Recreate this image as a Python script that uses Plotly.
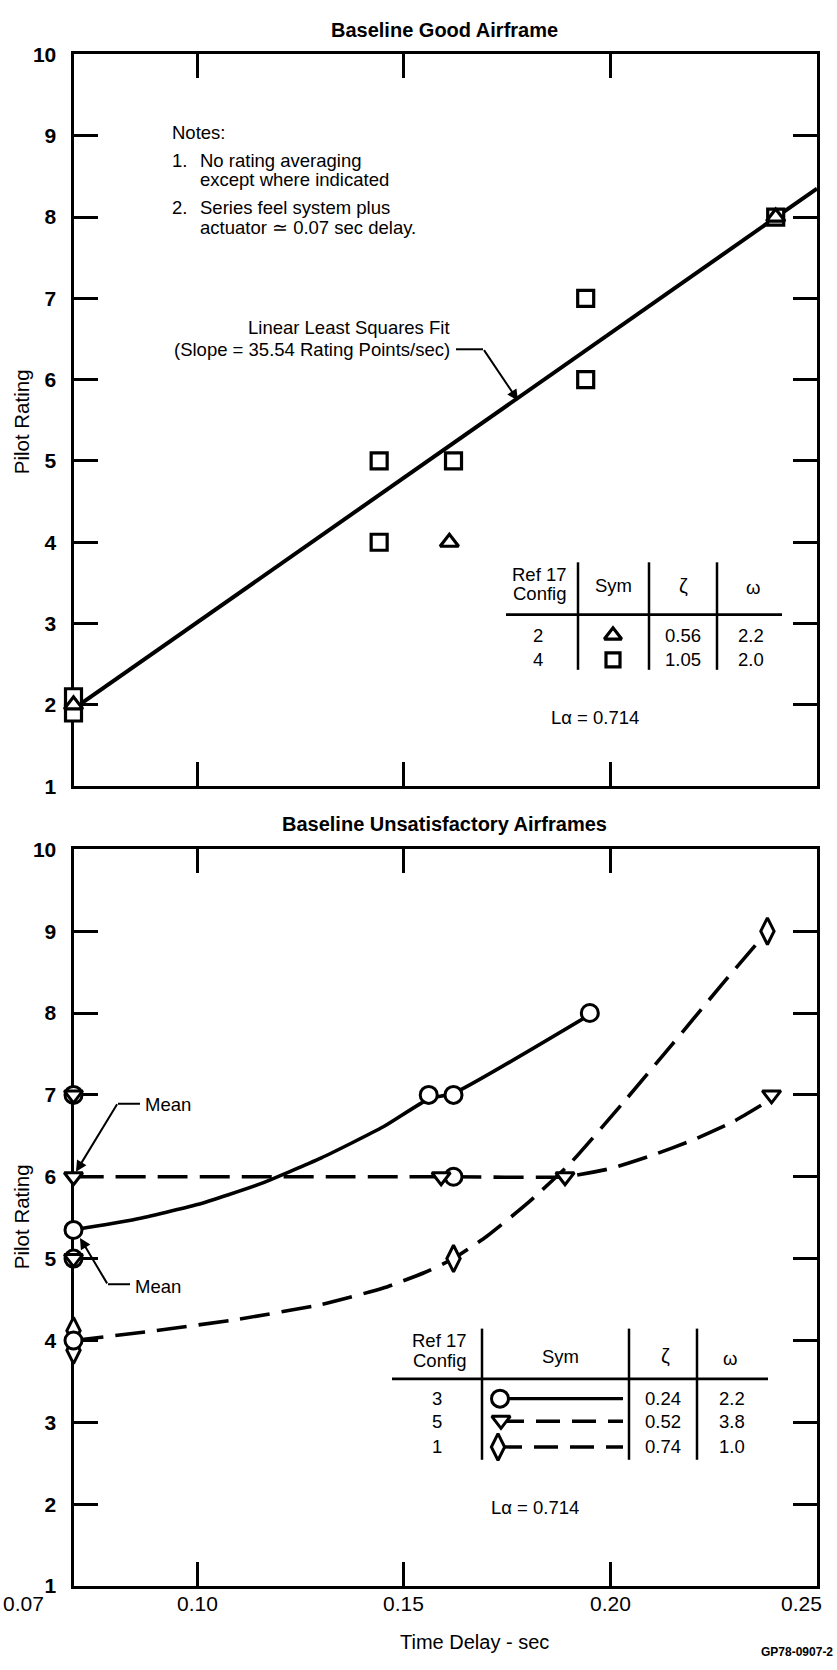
import plotly.graph_objects as go

W, H = 837, 1670

# ---------------- data ----------------
# Top panel : Baseline Good Airframe
cfg4_sq_x = [0.07, 0.07, 0.144, 0.144, 0.162, 0.194, 0.194, 0.240]
cfg4_sq_y = [2.1, 1.9, 4.0, 5.0, 5.0, 7.0, 6.0, 8.0]
cfg2_tri_x = [0.07, 0.161, 0.240]
cfg2_tri_y = [2.0, 4.0, 8.0]
fit_x = [0.07, 0.25]
fit_y = [1.95, 8.35]

# Bottom panel : Baseline Unsatisfactory Airframes
cfg3_circ_x = [0.07, 0.07, 0.07, 0.07, 0.156, 0.162, 0.162, 0.195]
cfg3_circ_y = [7.0, 5.0, 4.0, 5.35, 7.0, 7.0, 6.0, 8.0]
cfg5_tri_x = [0.07, 0.07, 0.07, 0.159, 0.189, 0.239]
cfg5_tri_y = [7.0, 5.0, 6.0, 6.0, 6.0, 7.0]
cfg1_dia_x = [0.07, 0.07, 0.162, 0.238]
cfg1_dia_y = [4.12, 3.88, 5.0, 9.0]

# faired curves
cfg3_curve_x = [0.07, 0.085, 0.10, 0.115, 0.13, 0.145, 0.156, 0.162, 0.195]
cfg3_curve_y = [5.35, 5.48, 5.66, 5.91, 6.23, 6.61, 6.95, 7.02, 7.98]
cfg5_curve_x = [0.07, 0.161, 0.189, 0.200, 0.210, 0.220, 0.230, 0.239]
cfg5_curve_y = [6.0, 6.0, 6.0, 6.10, 6.26, 6.45, 6.68, 6.95]
cfg1_curve_x = [0.07, 0.09, 0.11, 0.13, 0.145, 0.155, 0.162, 0.170, 0.180,
                0.190, 0.203, 0.215, 0.227, 0.238]
cfg1_curve_y = [4.0, 4.12, 4.26, 4.44, 4.64, 4.83, 5.0, 5.27, 5.68,
                6.15, 6.90, 7.62, 8.35, 9.0]

# axes / ticks
x_tick_vals = [0.07, 0.10, 0.15, 0.20, 0.25]
x_tick_text = ["0.07", "0.10", "0.15", "0.20", "0.25"]
x_tick_shift = [-50, 0, 0, 0, -16]
y_tick_vals = [1, 2, 3, 4, 5, 6, 7, 8, 9, 10]

# tables
top_cfg = ["2", "4"]
top_zeta = ["0.56", "1.05"]
top_omega = ["2.2", "2.0"]
bot_cfg = ["3", "5", "1"]
bot_zeta = ["0.24", "0.52", "0.74"]
bot_omega = ["2.2", "3.8", "1.0"]

FONT = "Liberation Sans, Arial, Helvetica, sans-serif"


def px(x):
    return x / W


def py(y):
    return 1 - y / H


fig = go.Figure()

SQ = dict(symbol="square", size=16, color="white", line=dict(color="black", width=3.2))
TU = dict(symbol="triangle-up", size=16, color="white", line=dict(color="black", width=3.2))
CI = dict(symbol="circle", size=17, color="white", line=dict(color="black", width=3))
TD = dict(symbol="triangle-down", size=16, color="white", line=dict(color="black", width=3))
DI = dict(symbol="diamond-tall", size=19, color="white", line=dict(color="black", width=3))

# ---------- top panel ----------
fig.add_trace(go.Scatter(x=fit_x, y=fit_y, mode="lines",
                         line=dict(color="black", width=4),
                         xaxis="x", yaxis="y", cliponaxis=False))
fig.add_trace(go.Scatter(x=cfg4_sq_x, y=cfg4_sq_y, mode="markers", marker=SQ,
                         xaxis="x", yaxis="y", cliponaxis=False))
fig.add_trace(go.Scatter(x=cfg2_tri_x, y=cfg2_tri_y, mode="markers", marker=TU,
                         xaxis="x", yaxis="y", cliponaxis=False))

# ---------- bottom panel ----------
DASH = "30px,12px"
fig.add_trace(go.Scatter(x=cfg1_curve_x, y=cfg1_curve_y, mode="lines",
                         line=dict(color="black", width=3.6, dash=DASH,
                                   shape="spline", smoothing=0.5),
                         xaxis="x2", yaxis="y2", cliponaxis=False))
fig.add_trace(go.Scatter(x=cfg5_curve_x, y=cfg5_curve_y, mode="lines",
                         line=dict(color="black", width=3.6, dash=DASH,
                                   shape="spline", smoothing=0.5),
                         xaxis="x2", yaxis="y2", cliponaxis=False))
fig.add_trace(go.Scatter(x=cfg3_curve_x, y=cfg3_curve_y, mode="lines",
                         line=dict(color="black", width=3.6,
                                   shape="spline", smoothing=0.5),
                         xaxis="x2", yaxis="y2", cliponaxis=False))
fig.add_trace(go.Scatter(x=cfg1_dia_x, y=cfg1_dia_y, mode="markers", marker=DI,
                         xaxis="x2", yaxis="y2", cliponaxis=False))
fig.add_trace(go.Scatter(x=cfg3_circ_x, y=cfg3_circ_y, mode="markers", marker=CI,
                         xaxis="x2", yaxis="y2", cliponaxis=False))
fig.add_trace(go.Scatter(x=cfg5_tri_x, y=cfg5_tri_y, mode="markers", marker=TD,
                         xaxis="x2", yaxis="y2", cliponaxis=False))

# ---------- table symbols (overlay in page pixels) ----------
def ov(x, y, **kw):
    fig.add_trace(go.Scatter(x=x, y=y, xaxis="x3", yaxis="y3",
                             cliponaxis=False, **kw))


ov([613], [632], mode="markers", marker=dict(TU, size=15))
ov([613], [657], mode="markers", marker=dict(SQ, size=14))
ov([492, 623], [1406, 1406], mode="lines", line=dict(color="black", width=3.4))
ov([500, 623], [1429, 1429], mode="lines",
   line=dict(color="black", width=3.4, dash="24px,12px"))
ov([498, 623], [1455, 1455], mode="lines",
   line=dict(color="black", width=3.4, dash="24px,12px"))
ov([500], [1406], mode="markers", marker=CI)
ov([501], [1428], mode="markers", marker=TD)
ov([498], [1455], mode="markers", marker=DI)

# ---------- axes ----------
XD = [px(73.5), px(817)]
TOPD = [py(785), py(43)]
BOTD = [py(1596), py(849)]

ax_common = dict(showline=True, linecolor="black", linewidth=3, mirror="ticks",
                 ticks="inside", ticklen=24, tickwidth=2.5, tickcolor="black",
                 showgrid=False, zeroline=False, layer="below traces",
                 fixedrange=True)
xax = dict(ax_common, range=[0.07, 0.25], tickmode="array",
           tickvals=x_tick_vals, ticktext=x_tick_text, domain=XD,
           showticklabels=False)
yax = dict(ax_common, range=[1, 10], tickmode="array", tickvals=y_tick_vals,
           ticktext=[str(v) for v in y_tick_vals], ticklabelstandoff=10,
           tickfont=dict(family=FONT, size=21, color="black", weight="bold"))

fig.update_layout(
    width=W, height=H,
    margin=dict(l=0, r=0, t=0, b=0),
    paper_bgcolor="white", plot_bgcolor="rgba(0,0,0,0)",
    showlegend=False,
    font=dict(family=FONT, color="black"),
    xaxis=dict(xax, anchor="y"),
    yaxis=dict(yax, anchor="x", domain=TOPD),
    xaxis2=dict(xax, anchor="y2"),
    yaxis2=dict(yax, anchor="x2", domain=BOTD),
    xaxis3=dict(domain=[0, 1], range=[0, W], visible=False, anchor="y3",
                fixedrange=True),
    yaxis3=dict(domain=[0, 1], range=[H, 0], visible=False, anchor="x3",
                fixedrange=True),
)

ann = []
shapes = []


def txt(x, y, s, size=18.5, bold=False, xanchor="center", textangle=0,
        family=FONT):
    ann.append(dict(x=px(x), y=py(y), xref="paper", yref="paper", text=s,
                    showarrow=False, xanchor=xanchor, yanchor="middle",
                    textangle=textangle,
                    font=dict(family=family, size=size, color="black",
                              weight="bold" if bold else "normal")))


def seg(x0, y0, x1, y1, w=2.5):
    shapes.append(dict(type="line", xref="paper", yref="paper",
                       x0=px(x0), y0=py(y0), x1=px(x1), y1=py(y1),
                       line=dict(color="black", width=w)))


def arrow(tipx, tipy, tailx, taily):
    ann.append(dict(x=px(tipx), y=py(tipy), xref="paper", yref="paper",
                    text="", showarrow=True, ax=tailx - tipx, ay=taily - tipy,
                    axref="pixel", ayref="pixel", arrowhead=2, arrowsize=1.1,
                    arrowwidth=2, arrowcolor="black", standoff=0,
                    startstandoff=0, font=dict(size=1)))


# titles
txt(445, 18, "Baseline Good Airframe", size=20, bold=True)
txt(445, 823, "Baseline Unsatisfactory Airframes", size=20, bold=True)
txt(21, 416, "Pilot Rating", size=20.5, textangle=-90)
txt(21, 1222, "Pilot Rating", size=20.5, textangle=-90)
txt(475, 1653, "Time Delay - sec", size=20)
txt(835, 1663, "GP78-0907-2", size=12, bold=True, xanchor="right")

# x tick labels of the lower panel
for v, t, sh in zip(x_tick_vals, x_tick_text, x_tick_shift):
    ann.append(dict(x=v, y=py(1614), xref="x2", yref="paper", text=t,
                    showarrow=False, xanchor="center", yanchor="middle",
                    xshift=sh, font=dict(family=FONT, size=21, color="black")))

# notes
txt(170, 122, "Notes:", xanchor="left")
txt(170, 151, "1.", xanchor="left")
txt(198, 151, "No rating averaging", xanchor="left")
txt(198, 170, "except where indicated", xanchor="left")
txt(170, 198, "2.", xanchor="left")
txt(198, 198, "Series feel system plus", xanchor="left")
txt(198, 219, "actuator \u2243 0.07 sec delay.", xanchor="left")

# fit annotation
txt(452, 320, "Linear Least Squares Fit", xanchor="right")
txt(452, 342, "(Slope = 35.54 Rating Points/sec)", xanchor="right")
seg(456, 342, 483, 342, w=2)
arrow(518, 394, 483, 342)

# top table
txt(539, 570, "Ref 17", size=18.5)
txt(539, 590, "Config", size=18.5)
txt(613, 582, "Sym", size=18.5)
txt(683, 582, "\u03b6", size=20)
txt(753, 584, "\u03c9", size=18.5)
seg(506, 611, 782, 611, w=2.8)
for xv in [578, 649, 717]:
    seg(xv, 558, xv, 667, w=2.5)
for i, yv in enumerate([632, 657]):
    txt(538, yv, top_cfg[i], size=18.5)
    txt(683, yv, top_zeta[i], size=18.5)
    txt(751, yv, top_omega[i], size=18.5)
txt(595, 715, "L\u03b1 = 0.714", size=18.5)

# bottom table
txt(439, 1347, "Ref 17", size=18.5)
txt(439, 1367, "Config", size=18.5)
txt(560, 1363, "Sym", size=18.5)
txt(665, 1363, "\u03b6", size=20)
txt(730, 1365, "\u03c9", size=18.5)
seg(392, 1386, 768, 1386, w=2.8)
for xv in [482, 629, 697]:
    seg(xv, 1335, xv, 1468, w=2.5)
for i, yv in enumerate([1406, 1429, 1455]):
    txt(437, yv, bot_cfg[i], size=18.5)
    txt(663, yv, bot_zeta[i], size=18.5)
    txt(732, yv, bot_omega[i], size=18.5)
txt(535, 1516, "L\u03b1 = 0.714", size=18.5)

# Mean callouts
txt(143, 1108, "Mean", xanchor="left")
seg(118, 1107, 140, 1107, w=2)
arrow(76, 1176, 118, 1107)
txt(133, 1292, "Mean", xanchor="left")
seg(108, 1290, 130, 1290, w=2)
arrow(80, 1243, 108, 1290)

fig.update_layout(annotations=ann, shapes=shapes)

fig.write_html("out.html")
